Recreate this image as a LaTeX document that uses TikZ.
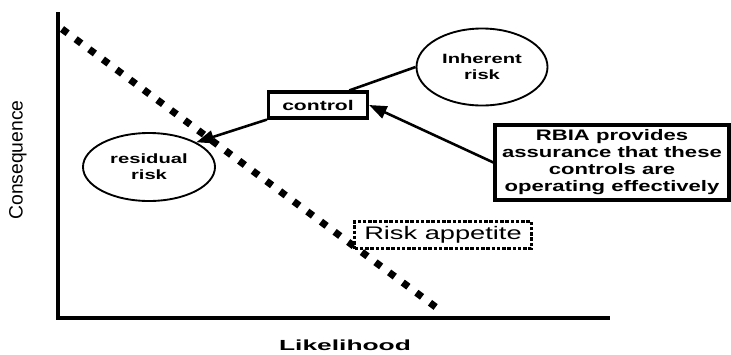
\documentclass[tikz,border=0pt]{standalone}
\usepackage{fontspec}
\setmainfont{Liberation Sans}
\newfontfamily\wideA[FakeStretch=1.5]{Liberation Sans}
\newfontfamily\wideB[FakeStretch=1.8]{Liberation Sans}
\newfontfamily\wideC[FakeStretch=1.45]{Liberation Sans}
\usetikzlibrary{shapes.geometric,arrows.meta}

\begin{document}
\begin{tikzpicture}[x=0.03cm, y=-0.03cm, every node/.style={align=center}]
\tikzset{
  riskoval/.style={ellipse, draw, line width=1.6pt, inner sep=0pt,
    font=\wideA\bfseries\fontsize{11.5}{13.5}\selectfont},
  boxed/.style={draw, line width=2.7pt, inner sep=0pt},
  arr/.style={line width=2.2pt, -{Triangle[length=15pt,width=11pt]}}
}
\useasboundingbox (0,0) rectangle (731,354);

% axes
\coordinate (ytop) at (58,12);
\coordinate (xend) at (610,318);
\draw[line width=2.8pt] (ytop) |- (xend);
\node[font=\fontsize{16.5}{18}\selectfont, rotate=90] (conseq) at (18,160) {Consequence};
\node[font=\wideB\bfseries\fontsize{12.5}{14}\selectfont] (likeli) at (345,345) {Likelihood};

% risk appetite line
\coordinate (apptop) at (62,29);
\coordinate (appbot) at (437,308);
\draw[line width=6pt, dash pattern=on 6pt off 8.5pt] (apptop) -- (appbot);

\node[riskoval, minimum width=3.96cm, minimum height=2.04cm] (residual) at (149,167) {residual\\risk};
\node[riskoval, minimum width=3.93cm, minimum height=2.31cm] (inherent) at (482,67) {Inherent\\risk};
\node[boxed, minimum width=2.97cm, minimum height=0.78cm, fill=white,
  font=\wideA\bfseries\fontsize{12}{14}\selectfont] (control) at (318,105) {control};
\node[boxed, minimum width=7.02cm, minimum height=2.25cm,
  font=\wideC\bfseries\fontsize{13}{14.5}\selectfont] (rbia) at (612,162.5)
  {RBIA provides\\assurance that these\\controls are\\operating effectively};
\node[draw, line width=2.7pt, dash pattern=on 3pt off 1.5pt, fill=white, inner sep=0pt,
  minimum width=5.31cm, minimum height=0.81cm,
  font=\wideA\fontsize{15.5}{17}\selectfont] (appetite) at (443,235) {Risk appetite};

\draw[line width=2.2pt] (inherent.west) -- (control.25);
\draw[arr] (control.south west) -- (residual.north east);
\draw[arr] (rbia.west) -- (control.east);
\end{tikzpicture}
\end{document}
